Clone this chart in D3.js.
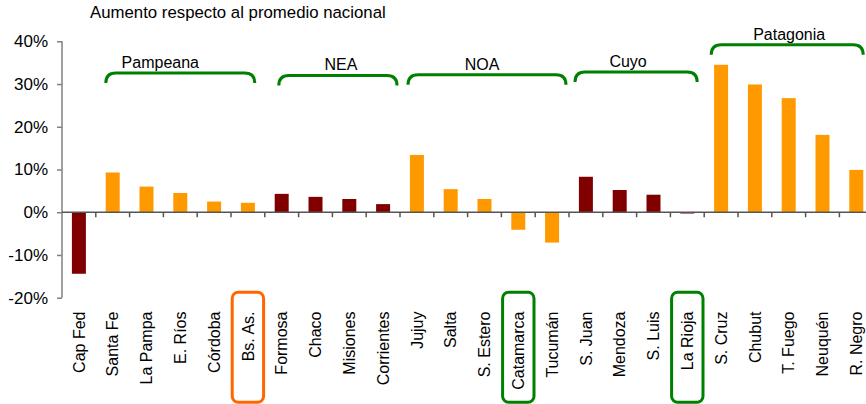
<!DOCTYPE html>
<html><head><meta charset="utf-8">
<script src="https://cdn.jsdelivr.net/npm/d3@7"></script>
<style>
html,body{margin:0;padding:0;background:#fff;}
svg{display:block;font-family:Arial,"Liberation Sans",sans-serif;}
</style></head>
<body><svg id="chart" width="866" height="404"></svg>
<script>
const categories = ["Cap Fed","Santa Fe","La Pampa","E. Ríos","Córdoba","Bs. As.","Formosa","Chaco","Misiones","Corrientes","Jujuy","Salta","S. Estero","Catamarca","Tucumán","S. Juan","Mendoza","S. Luis","La Rioja","S. Cruz","Chubut","T. Fuego","Neuquén","R. Negro"];
const values = [-14.4, 9.3, 6.0, 4.5, 2.5, 2.2, 4.3, 3.6, 3.1, 1.9, 13.4, 5.4, 3.1, -4.1, -7.1, 8.3, 5.2, 4.1, -0.3, 34.5, 29.9, 26.7, 18.1, 9.9];
const regionOf = ["Capital","Pampeana","Pampeana","Pampeana","Pampeana","Pampeana","NEA","NEA","NEA","NEA","NOA","NOA","NOA","NOA","NOA","Cuyo","Cuyo","Cuyo","Cuyo","Patagonia","Patagonia","Patagonia","Patagonia","Patagonia"];
const regionNames = ["Capital","Pampeana","NEA","NOA","Cuyo","Patagonia"];
const regionColors = ["#800000","#FF9900","#800000","#FF9900","#800000","#FF9900"];
const groupNames = ["Pampeana","NEA","NOA","Cuyo","Patagonia"];
const groupFirst = ["Santa Fe","Formosa","Jujuy","S. Juan","S. Cruz"];
const groupLast = ["Bs. As.","Corrientes","Tucumán","La Rioja","R. Negro"];
const groupLevel = [32.6, 32.0, 32.2, 32.8, 39.2];
const highlighted = ["Bs. As.","Catamarca","La Rioja"];
const highlightColors = ["#FF6600","#008000","#008000"];
const yTicks = [-20,-10,0,10,20,30,40];
const title = "Aumento respecto al promedio nacional";

const svg = d3.select("#chart");
const left = 62, bw = 33.8;
const x = d3.scaleBand().domain(categories).range([left, left + bw*categories.length]).paddingInner(0.586).paddingOuter(0.293);
const xb = d3.scaleBand().domain(categories).range([left, left + bw*categories.length]);
const y = d3.scaleLinear().domain([-20, 40]).range([297.7, 41.3]);
const color = d3.scaleOrdinal().domain(regionNames).range(regionColors);

// title
svg.append("text").attr("x", 90).attr("y", 18).attr("font-size", 16.8).attr("fill", "#000").text(title);

// y axis
const yAxis = svg.append("g").attr("transform", `translate(${left},0)`)
  .call(d3.axisLeft(y).tickValues(yTicks).tickFormat(d => d + "%").tickSize(5).tickPadding(9));
yAxis.select(".domain").attr("stroke", "#808080").attr("stroke-width", 1.5).attr("d", `M0,${y(40)}V${y(-20)}`);
yAxis.selectAll(".tick line").attr("stroke", "#808080").attr("stroke-width", 1.5);
yAxis.selectAll(".tick text").attr("font-size", 17).attr("fill", "#000").attr("font-family", "Arial, 'Liberation Sans', sans-serif");

// bars
svg.append("g").selectAll("rect").data(categories).join("rect")
  .attr("x", d => x(d))
  .attr("width", x.bandwidth())
  .attr("y", (d,i) => y(Math.max(0, values[i])))
  .attr("height", (d,i) => Math.abs(y(values[i]) - y(0)))
  .attr("fill", (d,i) => color(regionOf[i]));

// x axis line at zero
const xg = svg.append("g");
xg.append("line").attr("x1", left).attr("x2", left + bw*categories.length).attr("y1", y(0)).attr("y2", y(0))
  .attr("stroke", "#555").attr("stroke-width", 1.5);
xg.selectAll("line.tk").data(categories.slice(1)).join("line").attr("class","tk")
  .attr("x1", d => xb(d)).attr("x2", d => xb(d)).attr("y1", y(0)).attr("y2", y(0) + 5)
  .attr("stroke", "#555").attr("stroke-width", 1.5);

// category labels
svg.append("g").selectAll("text").data(categories).join("text")
  .attr("transform", d => `translate(${xb(d) + xb.bandwidth()/2},311.5) rotate(-90)`)
  .attr("text-anchor", "end").attr("dy", "0.35em").attr("font-size", 16).attr("fill", "#000")
  .text(d => d);

// highlight boxes
svg.append("g").selectAll("rect").data(highlighted).join("rect")
  .attr("x", d => xb(d) + xb.bandwidth()/2 - 15.7).attr("width", 31.4)
  .attr("y", 292.3).attr("height", 110)
  .attr("rx", 6).attr("ry", 6)
  .attr("fill", "none").attr("stroke", (d,i) => highlightColors[i]).attr("stroke-width", 3);

// region brackets
const labelShift = [-20, 3, -5, -8, 2];
const insetL = [10, 14, 8, 6, 7];
const insetR = [10, 3, 3, 7, 10];
const gb = svg.append("g");
groupNames.forEach((g, i) => {
  const x0 = xb(groupFirst[i]) + insetL[i];
  const x1 = xb(groupLast[i]) + xb.bandwidth() - insetR[i];
  const yt = y(groupLevel[i]);
  const r = 10;
  gb.append("path")
    .attr("d", `M${x0},${yt + r} Q${x0},${yt} ${x0 + r},${yt} L${x1 - r},${yt} Q${x1},${yt} ${x1},${yt + r}`)
    .attr("fill", "none").attr("stroke", "#008000").attr("stroke-width", 3);
  gb.append("text").attr("x", (x0 + x1)/2 + labelShift[i]).attr("y", yt - 5)
    .attr("text-anchor", "middle").attr("font-size", 16).attr("fill", "#000").text(g);
});
</script></body></html>
